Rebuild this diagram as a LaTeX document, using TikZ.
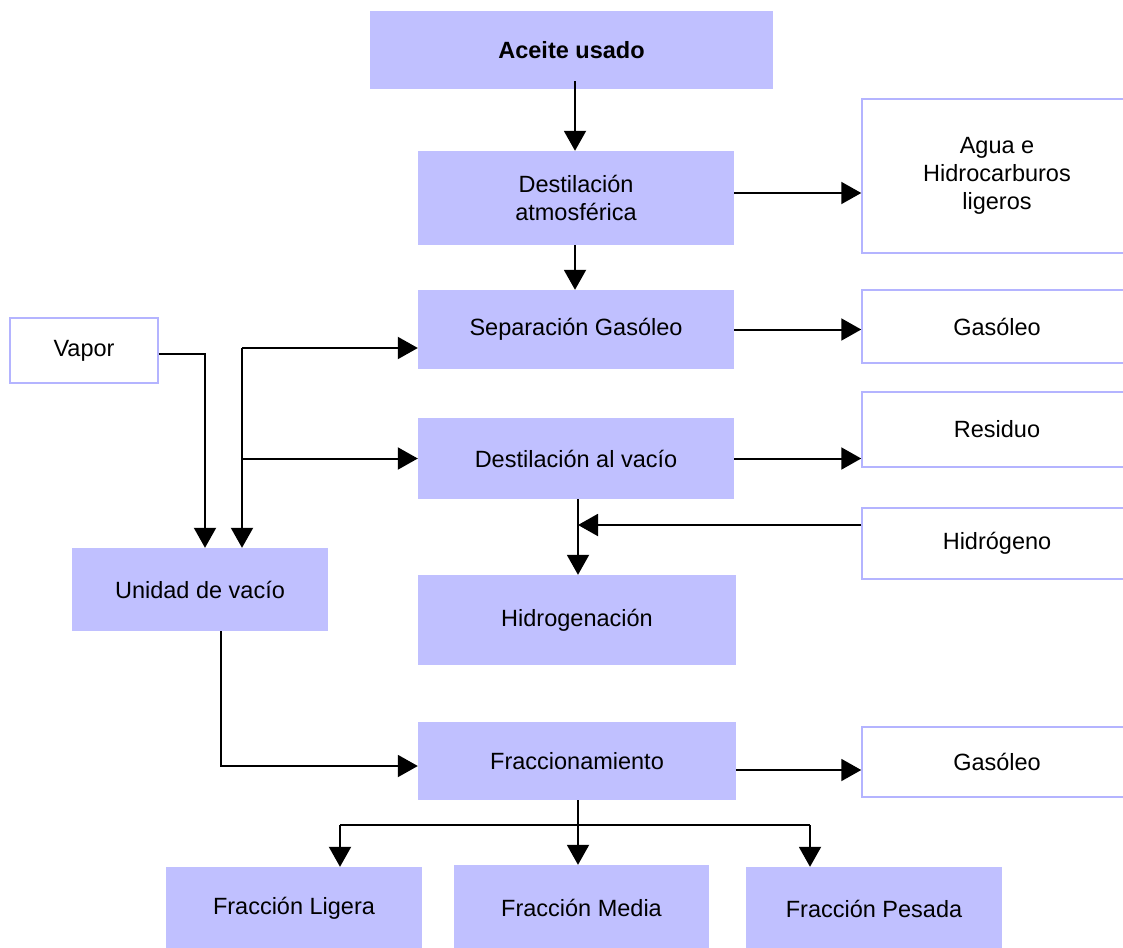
\documentclass[tikz,border=0pt]{standalone}
\usepackage{fontspec}
\setmainfont{Liberation Sans}
\usetikzlibrary{arrows.meta}
\definecolor{boxfill}{HTML}{C0C0FF}
\definecolor{boxline}{HTML}{B4B4FF}
\begin{document}
\begin{tikzpicture}[x=1pt,y=-1pt,
  every node/.style={font=\fontsize{23.5}{28}\selectfont, inner sep=0pt, align=center},
  proc/.style={rectangle, fill=boxfill, draw=none},
  io/.style={rectangle, fill=white, draw=boxline, line width=1.5pt},
  arr/.style={line width=2pt, -{Triangle[length=20pt,width=22pt]}},
  ln/.style={line width=2pt}]
\clip (0,0) rectangle (1123,947);
\fill[white] (0,0) rectangle (1123,947);

% process boxes
\node[proc, minimum width=403, minimum height=78] (aceite) at (571.5,50) {\bfseries Aceite usado};
\node[proc, minimum width=316, minimum height=94] (datm) at (576,198) {Destilación\\atmosférica};
\node[proc, minimum width=316, minimum height=79] (sep) at (576,329.5) {Separación Gasóleo};
\node[proc, minimum width=316, minimum height=81] (dvac) at (576,458.5) {Destilación al vacío};
\node[proc, minimum width=318, minimum height=90] (hgen) at (577,620) {Hidrogenación};
\node[proc, minimum width=256, minimum height=83] (unidad) at (200,589.5) {Unidad de vacío};
\node[proc, minimum width=318, minimum height=78] (fracc) at (577,761) {Fraccionamiento};
\node[proc, minimum width=256, minimum height=83] (fl) at (294,908.5) {Fracción Ligera};
\node[proc, minimum width=255, minimum height=85] (fm) at (581.5,907.5) {Fracción Media};
\node[proc, minimum width=256, minimum height=83] (fp) at (874,908.5) {Fracción Pesada};

% input / output boxes
\node[io, minimum width=270, minimum height=154] (agua) at (997,176) {Agua e\\Hidrocarburos\\ligeros};
\node[io, minimum width=270, minimum height=73] (gas1) at (997,326.5) {Gasóleo};
\node[io, minimum width=148, minimum height=65] (vapor) at (84,350.5) {Vapor};
\node[io, minimum width=270, minimum height=75] (residuo) at (997,429.5) {Residuo};
\node[io, minimum width=270, minimum height=71] (hidro) at (997,543.5) {Hidrógeno};
\node[io, minimum width=270, minimum height=70] (gas2) at (997,762) {Gasóleo};

% main line
\draw[arr] ([xshift=3.5pt,yshift=8pt]aceite.south) -- ([xshift=-1pt]datm.north);
\draw[arr] ([xshift=-1pt]datm.south) -- ([xshift=-1pt]sep.north);
\draw[arr] ([yshift=5pt]datm.east) -- ([yshift=5pt]agua.west |- datm.east);
\draw[arr] (sep.east) -- (gas1.west |- sep.east);
\draw[arr] (dvac.east) -- (residuo.west |- dvac.east);

% vacuum unit feeds
\draw[arr] ([yshift=-3.5pt]vapor.east) -| ([xshift=5pt]unidad.north);
\coordinate (bus) at (242,348);
\draw[arr] (bus) -- (sep.west |- bus);
\draw[arr] (bus) -- (unidad.north -| bus);
\draw[arr] (bus |- dvac.west) -- (dvac.west);

% hydrogenation
\draw[arr] ([xshift=2pt]dvac.south) -- ([xshift=1pt]hgen.north);
\draw[arr] ([yshift=18.5pt]hidro.west) -- ([yshift=18.5pt,xshift=2pt]hidro.west -| dvac.south);

% fractionation
\draw[arr] ([xshift=21pt]unidad.south) |- ([yshift=-5pt]fracc.west);
\draw[arr] ([yshift=-9pt]fracc.east) -- ([yshift=-9pt]gas2.west |- fracc.east);
\draw[arr] ([xshift=1pt]fracc.south) -- ([xshift=-3.5pt]fm.north);
\coordinate (split) at (578,825);
\draw[ln] ([xshift=46pt]fl.north |- split) -- ([xshift=-64pt]fp.north |- split);
\draw[arr] ([xshift=46pt]fl.north |- split) -- ([xshift=46pt]fl.north);
\draw[arr] ([xshift=-64pt]fp.north |- split) -- ([xshift=-64pt]fp.north);
\end{tikzpicture}
\end{document}
